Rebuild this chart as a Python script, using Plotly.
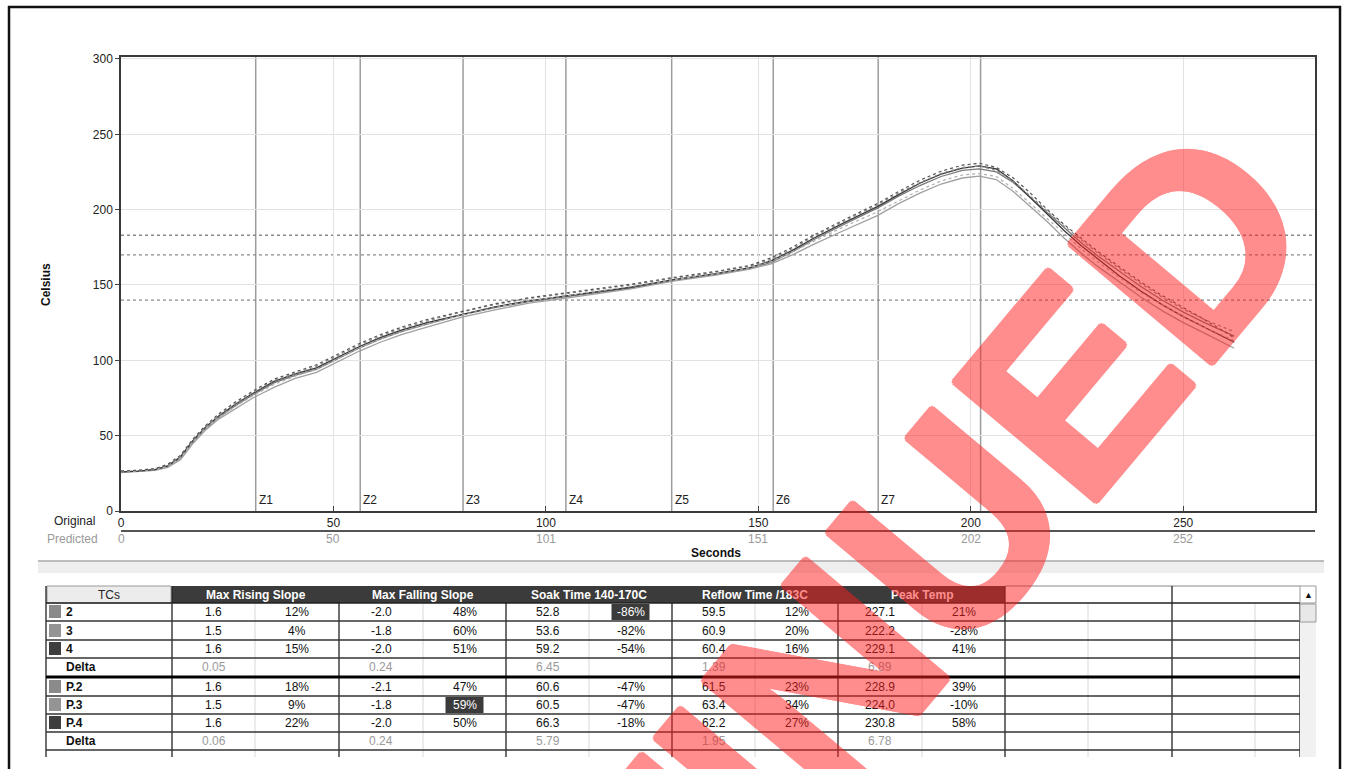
import plotly.graph_objects as go

# ---------------- data ----------------
times = [0, 4, 8, 11, 14, 17, 20, 23, 27, 31, 36, 41, 46, 51, 56, 61, 66, 72, 80, 88,
         96, 104, 112, 120, 130, 140, 148, 153, 158, 163, 170, 178, 183, 188, 193, 198,
         202, 206, 210, 214, 218, 222, 226, 230, 235, 240, 245, 250, 255, 262]

tc2 = [26, 26.5, 27.5, 29.5, 35, 46, 55, 62, 70, 77, 85, 90, 94, 101, 108, 114, 119, 124, 130, 135,
       139, 142, 145, 148, 153, 157, 161, 165, 172, 180, 190, 201, 209, 216, 222, 226,
       227.1, 225, 218, 208, 198, 188, 178, 169, 159, 149, 140, 132, 125, 116]
tc3 = [25.5, 26, 27, 29, 34, 45, 54, 61, 68, 75, 82, 88, 92, 99, 106, 112, 117, 122, 128.5, 133.5,
       138, 141, 144, 147.5, 152.5, 156.5, 160.5, 164, 170, 177, 186, 196, 204, 211, 217, 221,
       222.2, 220, 212, 202, 192, 181, 171, 162, 152, 142, 133, 125, 118, 108]
tc4 = [26, 26.5, 27.5, 30, 36, 47, 56, 63, 71, 78, 86, 91, 95, 102, 109, 115, 120, 125, 130.5, 135.5,
       139.5, 142.5, 145.5, 148.5, 153.5, 157.5, 161.5, 166, 173, 181, 191, 202, 210, 217.5, 223.5, 227.5,
       229.1, 227, 219, 208, 197, 186, 176, 167, 156, 146, 137, 129, 122, 112]
p2 = [26.5, 27, 28, 30.5, 36, 47, 56, 63.5, 71.5, 78.5, 86.5, 91.5, 96, 103, 110, 116, 121, 126, 132, 137,
      141, 144, 147, 150, 154.5, 158.5, 162.5, 167, 174, 182, 192, 203, 211, 218, 224, 228,
      228.9, 226, 219, 209, 199, 189, 180, 171, 161, 151, 142, 134, 127, 119]
p3 = [26, 26.5, 27.5, 29.5, 35, 46, 55, 62, 69.5, 76.5, 84, 89.5, 94, 101, 108, 114, 119, 124, 130, 135,
      139.5, 142.5, 145.5, 149, 153.5, 157.5, 161.5, 165.5, 172, 179, 188.5, 198.5, 206, 213, 219, 223,
      224.0, 222, 214, 204, 194, 184, 174, 165, 155, 145, 137, 129, 122, 113]
p4 = [26.5, 27, 28, 31, 37, 48, 57, 64.5, 72.5, 79.5, 87.5, 92.5, 97, 104, 111, 117, 122, 127, 132.5, 137.5,
      141.5, 144.5, 147.5, 150.5, 155, 159, 163, 168, 175, 183, 193, 204, 212, 219.5, 225.5, 229.5,
      230.8, 228, 221, 211, 200, 190, 181, 172, 162, 152, 143, 135, 127, 115]

zone_names = ["Z1", "Z2", "Z3", "Z4", "Z5", "Z6", "Z7"]
zone_pos = [31.7, 56.3, 80.5, 104.7, 129.6, 153.5, 178.2]
peak_marker = 202.3
limit_lines = [183, 170, 140]

x_ticks = [0, 50, 100, 150, 200, 250]
pred_ticks = ["0", "50", "101", "151", "202", "252"]
y_ticks = [0, 50, 100, 150, 200, 250, 300]

row_labels = ["2", "3", "4", "Delta", "P.2", "P.3", "P.4", "Delta"]
row_swatch = ["#8a8a8a", "#949494", "#3e3e3e", None, "#8a8a8a", "#949494", "#3e3e3e", None]
metrics = ["Max Rising Slope", "Max Falling Slope", "Soak Time 140-170C", "Reflow Time /183C", "Peak Temp"]
rising_val = ["1.6", "1.5", "1.6", "0.05", "1.6", "1.5", "1.6", "0.06"]
rising_pct = ["12%", "4%", "15%", "", "18%", "9%", "22%", ""]
falling_val = ["-2.0", "-1.8", "-2.0", "0.24", "-2.1", "-1.8", "-2.0", "0.24"]
falling_pct = ["48%", "60%", "51%", "", "47%", "59%", "50%", ""]
soak_val = ["52.8", "53.6", "59.2", "6.45", "60.6", "60.5", "66.3", "5.79"]
soak_pct = ["-86%", "-82%", "-54%", "", "-47%", "-47%", "-18%", ""]
reflow_val = ["59.5", "60.9", "60.4", "1.39", "61.5", "63.4", "62.2", "1.95"]
reflow_pct = ["12%", "20%", "16%", "", "23%", "34%", "27%", ""]
peak_val = ["227.1", "222.2", "229.1", "6.89", "228.9", "224.0", "230.8", "6.78"]
peak_pct = ["21%", "-28%", "41%", "", "39%", "-10%", "58%", ""]
highlight_cells = [(0, 2), (5, 1)]  # (row, metric) of percent cells shown inverted

# ---------------- layout helpers ----------------
W, H = 1351, 769
L, R, T, B = 121, 1315, 57, 511


def PX(px):
    return (px - L) / (R - L)


def PY(py):
    return (B - py) / (B - T)


FONT = "Liberation Sans, Arial, sans-serif"
NARROW = "Liberation Sans Narrow, Arial Narrow, Liberation Sans, sans-serif"

fig = go.Figure()
series = [
    (tc2, "#7a7a7a", "solid", 1.3), (tc3, "#a0a0a0", "solid", 1.3), (tc4, "#3a3a3a", "solid", 1.3),
    (p2, "#8a8a8a", "dot", 1.2), (p3, "#b0b0b0", "dot", 1.2), (p4, "#555555", "dot", 1.2),
]
names = ["2", "3", "4", "P.2", "P.3", "P.4"]
for (ys, col, dash, w), nm in zip(series, names):
    fig.add_trace(go.Scatter(x=times, y=ys, mode="lines", name=nm, showlegend=False,
                             hoverinfo="skip", line=dict(color=col, dash=dash, width=w)))

shapes = []
ann = []

# zone lines
for z in zone_pos + [peak_marker]:
    shapes.append(dict(type="line", xref="x", yref="paper", x0=z, x1=z, y0=0, y1=1,
                       line=dict(color="#9c9c9c", width=1.5), layer="between"))
for nm, z in zip(zone_names, zone_pos):
    ann.append(dict(xref="x", yref="paper", x=z, y=PY(500), text=nm, showarrow=False,
                    xanchor="left", yanchor="middle", xshift=1,
                    font=dict(family=NARROW, size=12, color="#222")))
# limit lines
for v in limit_lines:
    shapes.append(dict(type="line", xref="paper", yref="y", x0=0, x1=1, y0=v, y1=v,
                       line=dict(color="#8a8a8a", width=1.3, dash="dot"), layer="between"))


def rect(x0, y0, x1, y1, fill=None, lc=None, lw=0):
    shapes.append(dict(type="rect", xref="paper", yref="paper", x0=PX(x0), x1=PX(x1),
                       y0=PY(y0), y1=PY(y1), fillcolor=fill if fill else "rgba(0,0,0,0)",
                       line=dict(color=lc if lc else "rgba(0,0,0,0)", width=lw)))


def hline(x0, x1, y, color, w, dash="solid"):
    shapes.append(dict(type="line", xref="paper", yref="paper", x0=PX(x0), x1=PX(x1),
                       y0=PY(y), y1=PY(y), line=dict(color=color, width=w, dash=dash)))


def vline(x, y0, y1, color, w):
    shapes.append(dict(type="line", xref="paper", yref="paper", x0=PX(x), x1=PX(x),
                       y0=PY(y0), y1=PY(y1), line=dict(color=color, width=w)))


def text(px, py, s, size=12, color="#111", family=FONT, anchor="center", bold=False, angle=0):
    ann.append(dict(xref="paper", yref="paper", x=PX(px), y=PY(py), text=s, showarrow=False,
                    xanchor=anchor, yanchor="middle", textangle=angle,
                    font=dict(family=family, size=size, color=color,
                              weight="bold" if bold else "normal")))


# outer frame
rect(9, 7, 1340, 776, lc="#111", lw=2.5)

# axis labels
text(46, 285, "Celsius", size=12, bold=True, angle=-90)
text(716, 553, "Seconds", size=12, bold=True)
text(97, 521, "Original", size=12, color="#222", anchor="right")
text(100, 539, "Predicted", size=12, color="#9a9a9a", anchor="right")
hline(L, R, 531, "#555", 2)
for xv, lab in zip(x_ticks, pred_ticks):
    ann.append(dict(xref="x", yref="paper", x=xv, y=PY(539), text=lab, showarrow=False,
                    xanchor="center", yanchor="middle",
                    font=dict(family=FONT, size=12, color="#9a9a9a")))

# separator band
rect(38, 561, 1324, 573, fill="#eeeeee")
hline(38, 1324, 561, "#a8a8a8", 1.5)

# ---------------- table ----------------
col_major = [46, 172, 339, 506, 672, 838, 1005, 1172, 1300]
col_minor = [255, 423, 589, 755, 922, 1088, 1255]
head_top, head_bot = 586, 603
row_lines = [621, 640, 658, 677, 696, 714, 732, 750]
row_cy = [612, 631, 649, 667, 687, 705, 723, 741]
tab_bot = 757

rect(46, head_top, 1300, tab_bot, fill="white")
# header cells
rect(47, head_top, 171, head_bot, fill="#ececec", lc="#9a9a9a", lw=1)
text(109, 595, "TCs", size=12, family=NARROW, color="#222")
for m, name in enumerate(metrics):
    x0, x1 = col_major[m + 1], col_major[m + 2]
    rect(x0, head_top, x1, head_bot, fill="#3b3b3b")
    text((x0 + x1) / 2, 595, name, size=12, family=NARROW, color="white", bold=True)
hline(1005, 1300, head_top, "#888", 1)

# highlighted cells
for r, m in highlight_cells:
    cx = (col_minor[m] + col_major[m + 2]) / 2
    top = head_bot if r == 0 else row_lines[r - 1]
    rect(cx - 19, top + 1, cx + 19, row_lines[r] - 1, fill="#3b3b3b")

# grid lines
for x in col_minor:
    vline(x, head_bot, tab_bot, "#d8d8d8", 1)
for x in col_major:
    vline(x, head_top if x in (46, 172, 1005, 1172) else head_bot, tab_bot, "#222", 1.3)
hline(46, 1300, head_bot, "#222", 1.5)
for y in row_lines:
    hline(46, 1300, y, "#000" if y == 677 else "#333", 3 if y == 677 else 1.5)

# scrollbar
rect(1300, head_top, 1316, tab_bot, fill="#f1f1f1")
rect(1300, head_top, 1316, 603, fill="white", lc="#999", lw=1)
text(1308, 595, "▲", size=9, color="#111")
rect(1300, 604, 1316, 622, fill="#e8e8e8", lc="#999", lw=1)

# rows
cols = [(rising_val, rising_pct), (falling_val, falling_pct), (soak_val, soak_pct),
        (reflow_val, reflow_pct), (peak_val, peak_pct)]
for r, lab in enumerate(row_labels):
    cy = row_cy[r]
    if row_swatch[r]:
        rect(49, cy - 7, 61, cy + 6, fill=row_swatch[r])
    text(64, cy, lab, size=12, family=NARROW, color="#111", anchor="left", bold=True)
    is_delta = lab == "Delta"
    for m, (vals, pcts) in enumerate(cols):
        vx = (col_major[m + 1] + col_minor[m]) / 2
        px_ = (col_minor[m] + col_major[m + 2]) / 2
        text(vx, cy, vals[r], size=12, family=NARROW, color="#9a9a9a" if is_delta else "#111")
        if pcts[r]:
            hl = (r, m) in highlight_cells
            text(px_, cy, pcts[r], size=12, family=NARROW, color="white" if hl else "#111")

# watermark (heavier strokes via solid shadows, whole group made translucent)
sh = ", ".join(f"{dx}px {dy}px 0 #ff1e1e" for dx, dy in
               [(3, 0), (-3, 0), (0, 3), (0, -3), (2, 2), (-2, -2), (2, -2), (-2, 2)])
ann.append(dict(xref="paper", yref="paper", x=PX(593), y=PY(955), text="DISCONTINUED",
                showarrow=False, xanchor="center", yanchor="middle", textangle=-50,
                opacity=0.5,
                font=dict(family="Liberation Sans, Arial, sans-serif", size=270,
                          color="#ff1e1e", weight="bold", shadow=sh)))

fig.update_layout(
    width=W, height=H, autosize=False,
    margin=dict(l=L, r=W - R, t=T, b=H - B, pad=0),
    paper_bgcolor="white", plot_bgcolor="white",
    shapes=shapes, annotations=ann,
    font=dict(family=FONT, size=12, color="#222"),
    xaxis=dict(range=[0, 281], tickvals=x_ticks, showgrid=True, gridcolor="#e2e2e2", gridwidth=1,
               ticks="inside", ticklen=5, tickcolor="#444", showline=True, linecolor="#3a3a3a",
               linewidth=1.5, mirror=True, zeroline=False, tickfont=dict(size=12, color="#222")),
    yaxis=dict(range=[0, 301.3], tickvals=y_ticks, showgrid=True, gridcolor="#e2e2e2", gridwidth=1,
               ticks="outside", ticklen=4, tickcolor="#444", showline=True, linecolor="#3a3a3a",
               linewidth=1.5, mirror=True, zeroline=False, tickfont=dict(size=12, color="#222")),
)

fig.write_html("out.html", config={"displayModeBar": False},
               post_script="document.body.style.margin='0px';document.body.style.overflow='hidden';")
